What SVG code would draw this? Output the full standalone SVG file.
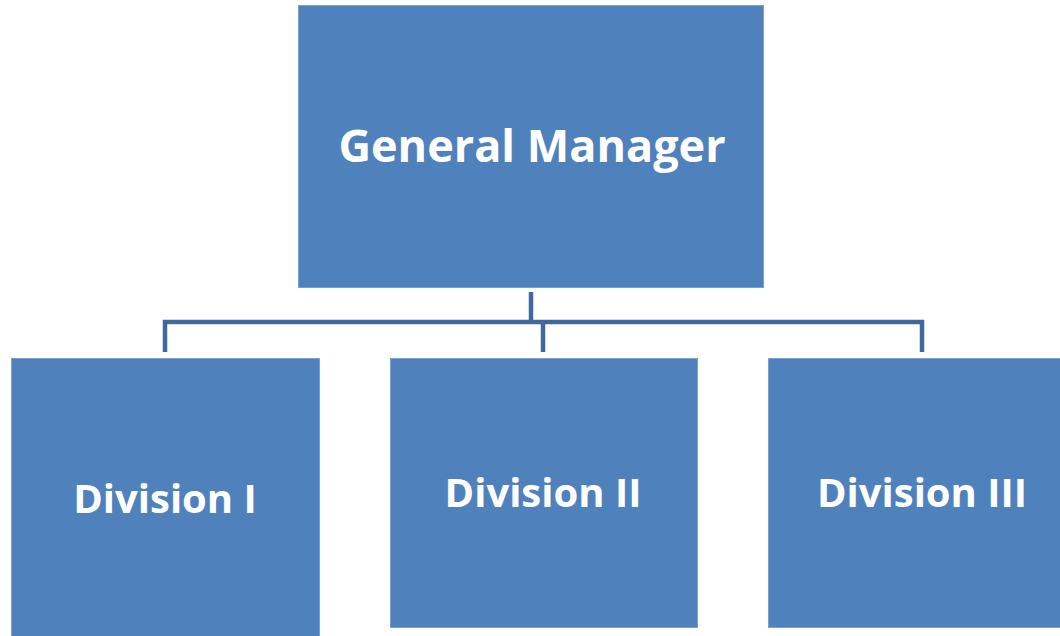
<svg xmlns="http://www.w3.org/2000/svg" width="1060" height="636" viewBox="0 0 1060 636">
  <style>
    .box { fill: #4f81bd; stroke: #7b9fd0; stroke-width: 1; }
    .label { fill: #ffffff; font-family: "Open Sans", "Liberation Sans", sans-serif; font-weight: bold; text-anchor: middle; }
    .link { fill: none; stroke: #41689c; stroke-width: 4.5; stroke-linejoin: miter; }
  </style>
  <rect width="1060" height="636" fill="#ffffff"/>

  <!-- reporting lines -->
  <g id="connectors">
    <path class="link" d="M531,292 V322"/>
    <path class="link" d="M165,352 V322 H922 V352"/>
    <path class="link" d="M543,322 V352"/>
  </g>

  <g id="general-manager">
    <rect class="box" x="298.5" y="5.5" width="465" height="282"/>
    <text class="label" x="532" y="162" font-size="45">General Manager</text>
  </g>

  <g id="division-1">
    <rect class="box" x="11.5" y="358.5" width="308" height="290"/>
    <text class="label" x="165" y="513" font-size="40">Division I</text>
  </g>

  <g id="division-2">
    <rect class="box" x="390.5" y="358.5" width="307" height="269"/>
    <text class="label" x="543" y="507" font-size="40">Division II</text>
  </g>

  <g id="division-3">
    <rect class="box" x="768.5" y="358.5" width="300" height="269"/>
    <text class="label" x="922" y="507" font-size="40">Division III</text>
  </g>
</svg>
